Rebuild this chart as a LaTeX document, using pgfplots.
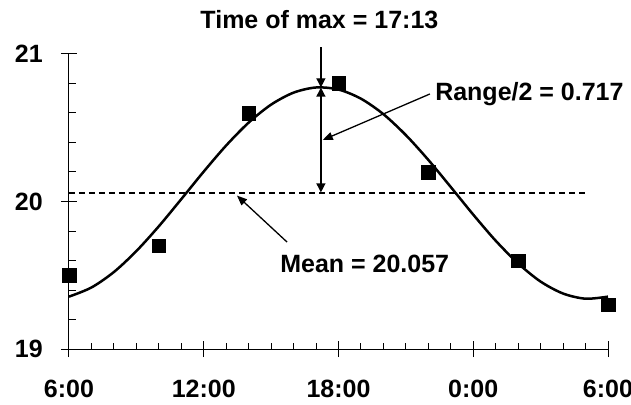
\documentclass[border=0pt]{standalone}
\usepackage{pgfplots}
\pgfplotsset{compat=1.18}
\usepackage{pgfplotstable}
\usepackage{fontspec}
\setmainfont{Liberation Sans}
\usetikzlibrary{arrows.meta}
\newcommand\lbl{\bfseries\fontsize{25}{30}\selectfont}

\pgfplotstableread{
t y
6 19.355
7 19.417
8 19.522
9 19.664
10 19.832
11 20.016
12 20.203
13 20.380
14 20.535
15 20.657
16 20.738
17 20.773
18 20.759
19 20.697
20 20.592
21 20.450
22 20.282
23 20.098
24 19.911
25 19.734
26 19.580
27 19.457
28 19.376
29 19.341
30 19.355
}\fitdata

\pgfplotstableread{
t y
6 19.50
10 19.70
14 20.60
18 20.80
22 20.20
26 19.60
30 19.30
}\obsdata

\begin{document}
\begin{tikzpicture}
\begin{axis}[
  at={(0pt,0pt)}, anchor=south west,
  scale only axis, width=539pt, height=295pt,
  xmin=6, xmax=30, ymin=19, ymax=21,
  axis lines*=left,
  axis line style={line width=1pt, black},
  clip=false,
  xtick={6,12,18,24,30},
  xticklabels={6:00,12:00,18:00,0:00,6:00},
  ytick={19,20,21},
  yticklabels={19,20,21},
  tick align=center, major tick length=16pt,
  tick style={line width=1pt, black},
  extra x ticks={7,8,9,10,11,13,14,15,16,17,19,20,21,22,23,25,26,27,28,29},
  extra x tick labels={},
  extra x tick style={tick align=inside, major tick length=6pt},
  extra y ticks={19.2,19.4,19.6,19.8,20.2,20.4,20.6,20.8},
  extra y tick labels={},
  extra y tick style={tick align=inside, major tick length=7pt},
  /pgf/number format/assume math mode=true,
  tick label style={font=\lbl, inner sep=0pt},
  xticklabel style={anchor=north, yshift=-23pt},
  yticklabel style={anchor=east, xshift=-18pt},
]
\addplot[black, line width=2.5pt, smooth, tension=0.5] table[x=t,y=y]{\fitdata};
\addplot[only marks, mark=square*, mark size=6.8pt, black] table[x=t,y=y]{\obsdata};

% mean line
\draw[black, line width=1.3pt, dash pattern=on 6pt off 4pt] (axis cs:6,20.057) -- (axis cs:29.07,20.057);

% time of max
\node[anchor=base, inner sep=0pt, font=\lbl] at (axis cs:17.15,21.176) {Time of max = 17:13};
\draw[black, line width=1.3pt, -{Triangle[length=9pt,width=9pt]}] (axis cs:17.217,21.047) -- (axis cs:17.217,20.774);
\draw[black, line width=1.3pt, {Triangle[length=9pt,width=9pt]}-{Triangle[length=9pt,width=9pt]}] (axis cs:17.217,20.772) -- (axis cs:17.217,20.062);

% range
\node[anchor=base west, inner sep=0pt, font=\lbl] at (axis cs:22.30,20.688) {Range/2 = 0.717};
\draw[black, line width=1.3pt, -{Triangle[length=10pt,width=8pt]}] (axis cs:22.07,20.729) -- (axis cs:17.30,20.417);

% mean label
\node[anchor=base west, inner sep=0pt, font=\lbl] at (axis cs:15.40,19.517) {Mean = 20.057};
\draw[black, line width=1.3pt, -{Triangle[length=10pt,width=8pt]}] (axis cs:15.71,19.725) -- (axis cs:13.48,20.040);
\end{axis}
\pgfresetboundingbox
\useasboundingbox (-69pt,-55pt) rectangle (562pt,349pt);
\end{tikzpicture}
\end{document}
